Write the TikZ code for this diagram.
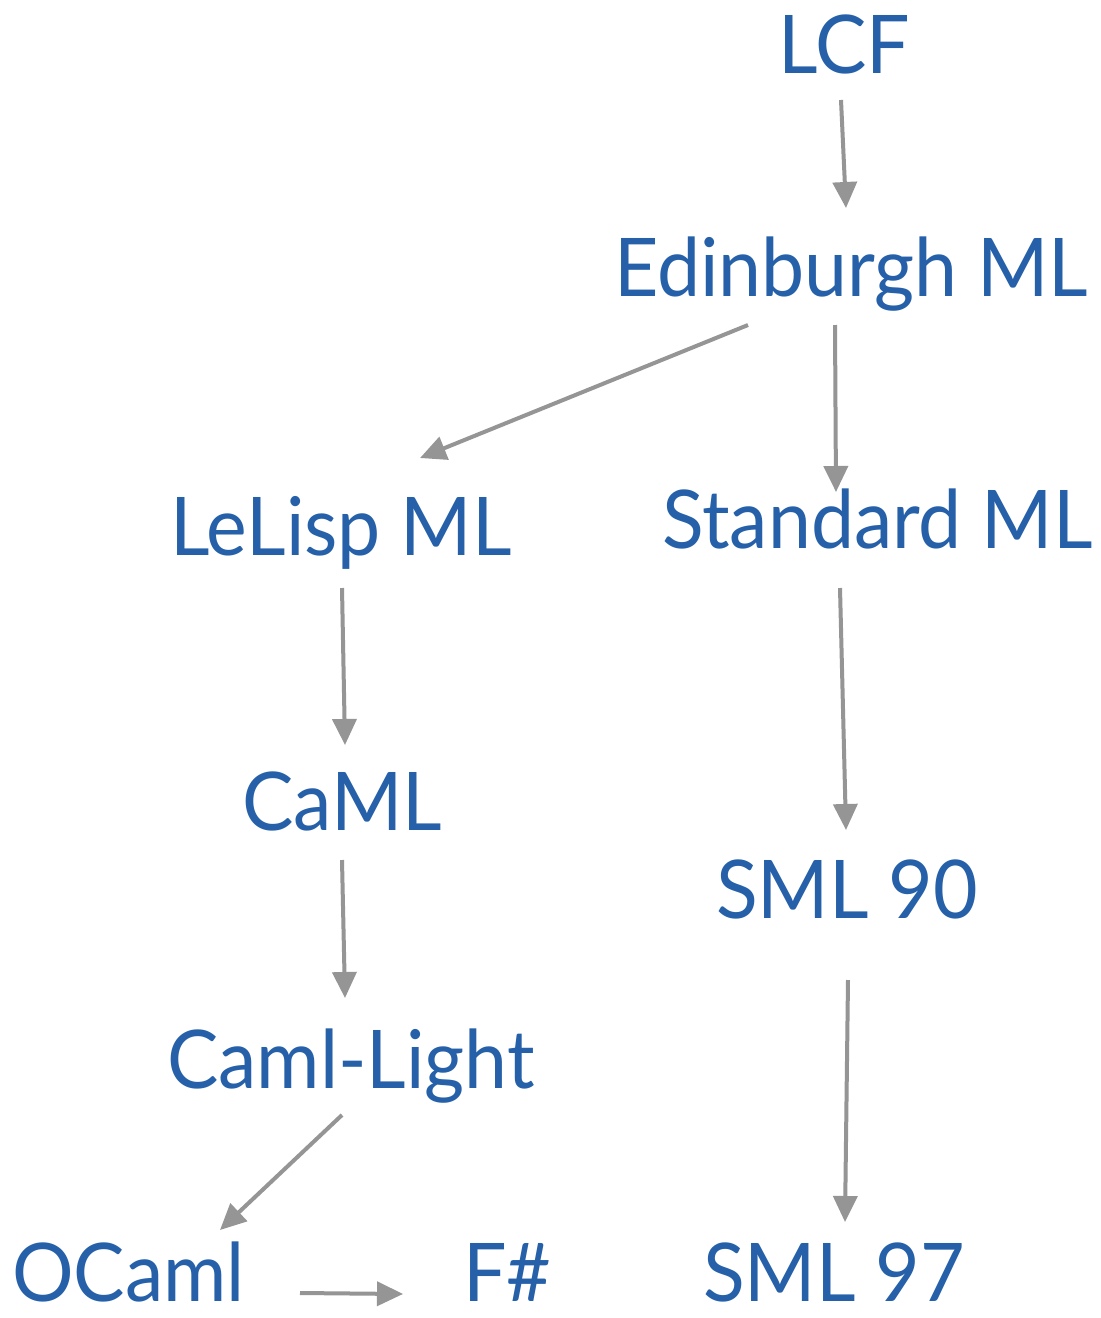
\documentclass[tikz,border=0pt]{standalone}
\usepackage{fontspec}
\setmainfont[FakeStretch=0.95]{Lato}
\usetikzlibrary{arrows.meta,calc}
\definecolor{lblue}{HTML}{2560A8}
\definecolor{agray}{HTML}{959595}
\begin{document}
\begin{tikzpicture}[x=1pt,y=-1pt,
  lang/.style={anchor=base west,inner sep=0pt,text=lblue,font=\fontsize{81}{96}\selectfont},
  arr/.style={draw=agray,line width=4pt,-{Triangle[length=26pt,width=24pt]}}]
\useasboundingbox[fill=white] (0,0) rectangle (1101,1318);
\node[lang] (lcf) at (778,73) {LCF};
\node[lang] (edin) at (614,296) {Edinburgh ML};
\node[lang] (lelisp) at (170,555) {LeLisp ML};
\node[lang] (sml) at (662,548) {Standard ML};
\node[lang] (caml) at (242,830) {CaML};
\node[lang] (sml90) at (716,918) {SML 90};
\node[lang] (camllight) at (167,1088) {Caml-Light};
\node[lang] (ocaml) at (12,1301) {OCaml};
\node[lang] (fsharp) at (463,1301) {F\#};
\node[lang] (sml97) at (703,1301) {SML 97};
\draw[arr] ($(lcf.base west)+(63,27)$) -- ($(edin.base west)+(232,-88)$);
\draw[arr] ($(edin.base west)+(134,29)$) -- ($(lelisp.base west)+(250,-97)$);
\draw[arr] ($(edin.base west)+(221,29)$) -- ($(sml.base west)+(174,-56)$);
\draw[arr] ($(lelisp.base west)+(172,33)$) -- ($(caml.base west)+(103,-85)$);
\draw[arr] ($(sml.base west)+(178,40)$) -- ($(sml90.base west)+(130,-88)$);
\draw[arr] ($(caml.base west)+(100,30)$) -- ($(camllight.base west)+(178,-90)$);
\draw[arr] ($(camllight.base west)+(175,27)$) -- ($(ocaml.base west)+(208,-71)$);
\draw[arr] ($(ocaml.base west)+(288,-8)$) -- ($(fsharp.base west)+(-60,-7)$);
\draw[arr] ($(sml90.base west)+(132,62)$) -- ($(sml97.base west)+(142,-79)$);
\end{tikzpicture}
\end{document}
